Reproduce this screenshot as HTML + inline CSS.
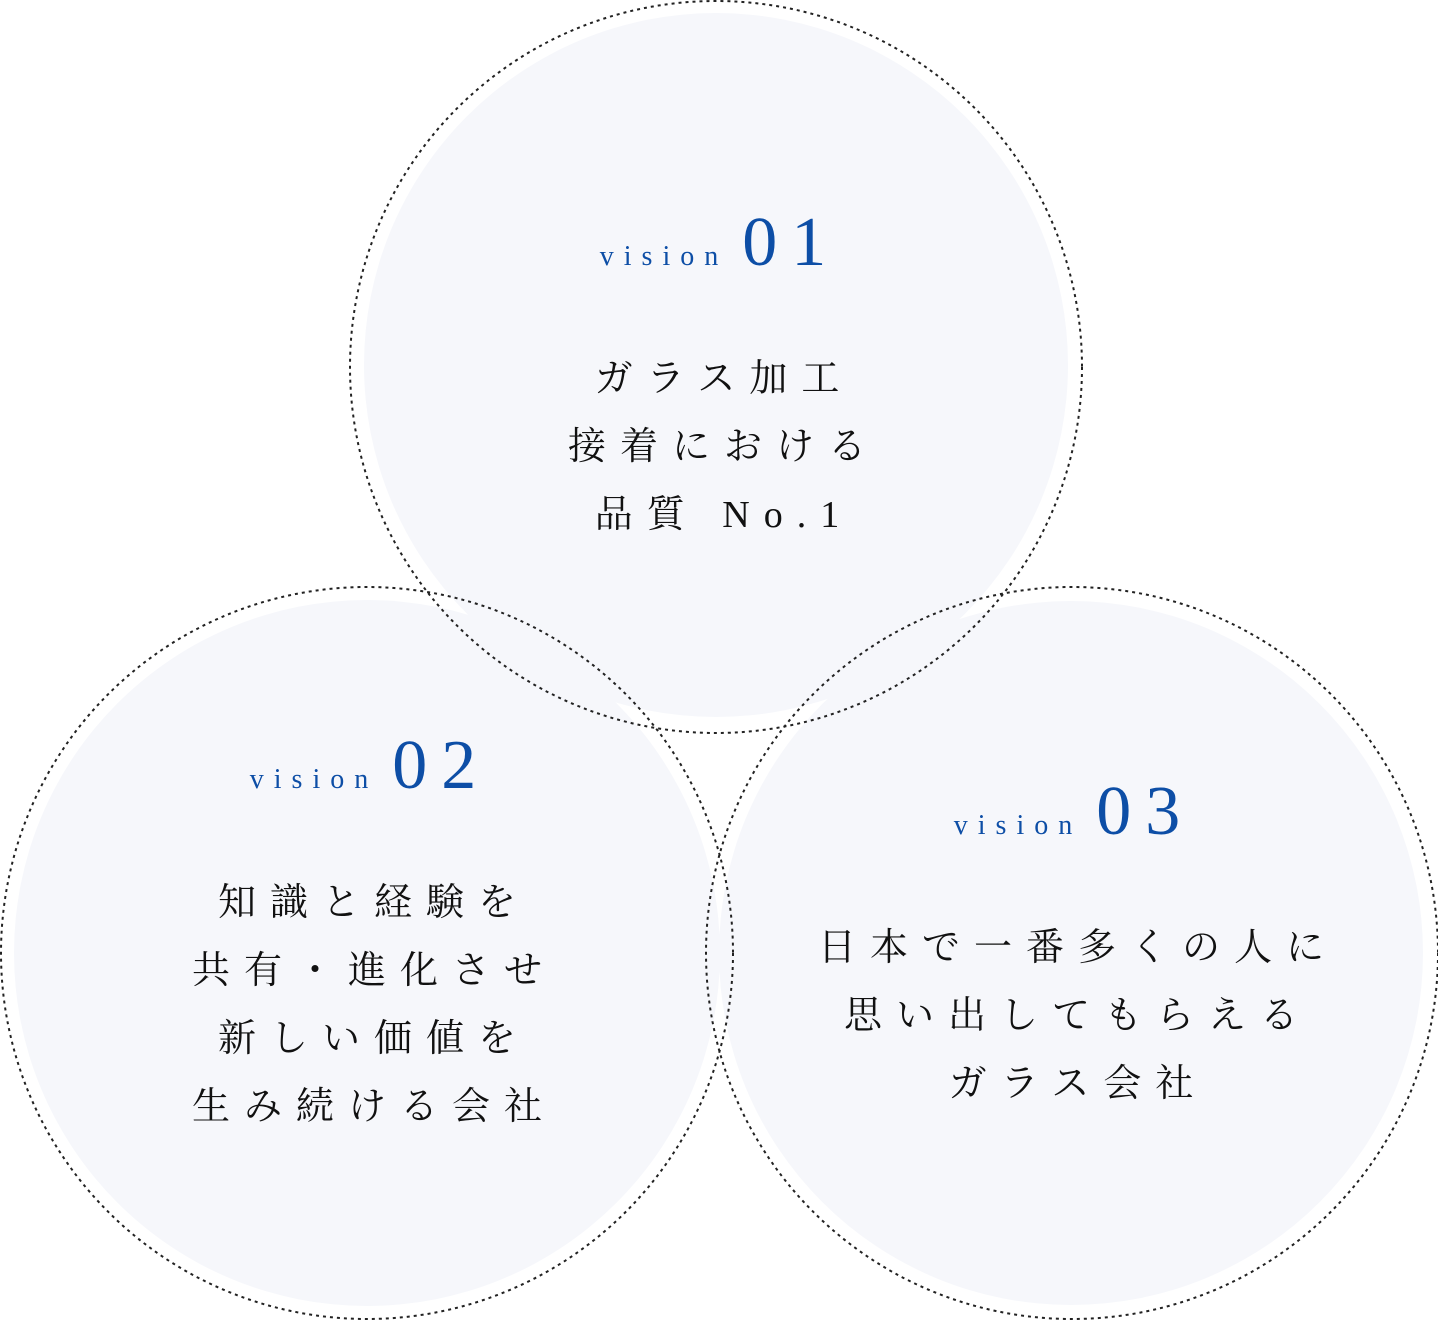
<!DOCTYPE html>
<html><head><meta charset="utf-8"><style>
html,body{margin:0;padding:0;background:#fff;}
svg{display:block}
.v{font-family:"Liberation Serif","Noto Serif CJK SC",serif;fill:#0d4ea6;}
.j{font-family:"Liberation Serif","Noto Serif CJK SC",serif;fill:#111;font-size:38px;letter-spacing:14px;}
</style></head><body>
<svg width="1438" height="1320" viewBox="0 0 1438 1320" xmlns="http://www.w3.org/2000/svg">
<circle cx="716" cy="365" r="352" fill="#f6f7fb"/>
<circle cx="367" cy="953" r="353" fill="#f6f7fb"/>
<circle cx="1071" cy="953" r="352" fill="#f6f7fb"/>
<g fill="none" stroke="#222" stroke-width="2" stroke-dasharray="3 4">
<circle cx="716" cy="367" r="366"/>
<circle cx="367" cy="953" r="366"/>
<circle cx="1072" cy="953" r="366"/>
</g>
<g text-anchor="middle">
<text x="720" y="265" class="v"><tspan font-size="28" letter-spacing="10">vision</tspan><tspan font-size="70" letter-spacing="14" dx="14">01</tspan></text>
<text x="724" y="391" class="j">ガラス加工</text>
<text x="724" y="459" class="j">接着における</text>
<text x="724" y="527" class="j">品質 No.1</text>

<text x="370" y="788" class="v"><tspan font-size="28" letter-spacing="10">vision</tspan><tspan font-size="70" letter-spacing="14" dx="14">02</tspan></text>
<text x="374" y="915" class="j">知識と経験を</text>
<text x="374" y="983" class="j">共有・進化させ</text>
<text x="374" y="1051" class="j">新しい価値を</text>
<text x="374" y="1119" class="j">生み続ける会社</text>

<text x="1074" y="834" class="v"><tspan font-size="28" letter-spacing="10">vision</tspan><tspan font-size="70" letter-spacing="14" dx="14">03</tspan></text>
<text x="1078" y="960" class="j">日本で一番多くの人に</text>
<text x="1078" y="1028" class="j">思い出してもらえる</text>
<text x="1078" y="1096" class="j">ガラス会社</text>
</g>
</svg>
</body></html>
